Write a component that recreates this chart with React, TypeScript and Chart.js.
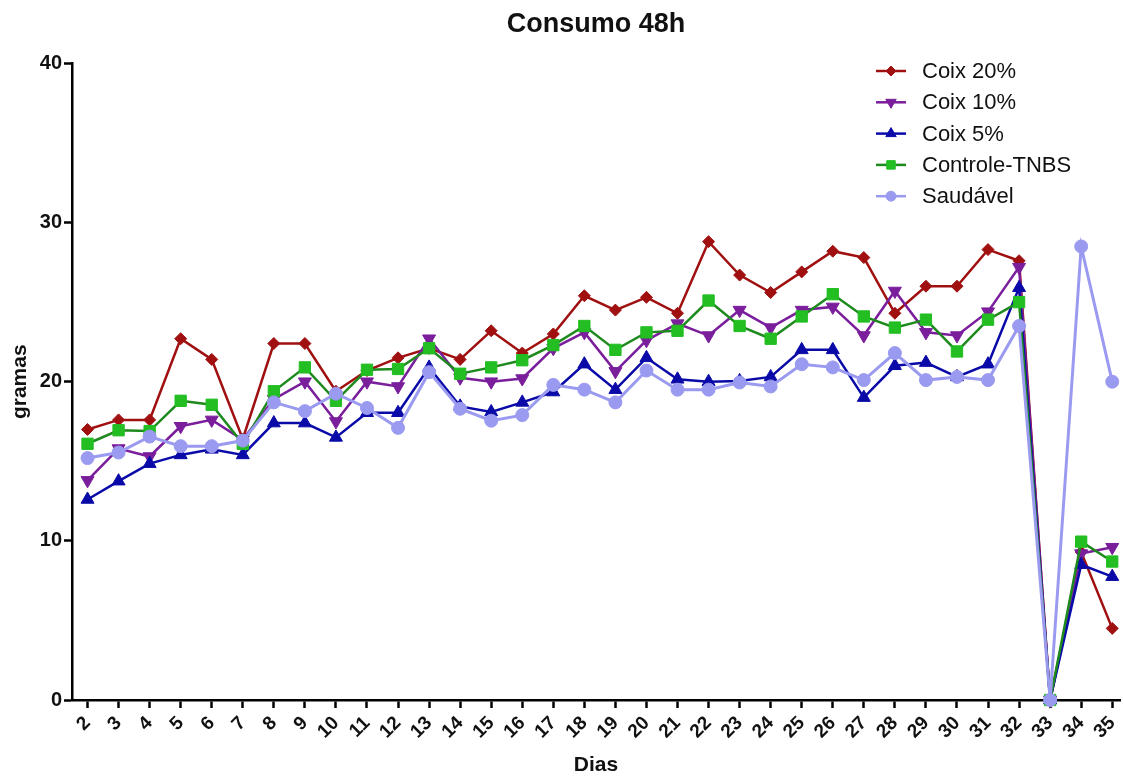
import React, { useEffect, useRef } from 'react';
import { Chart, registerables } from 'chart.js';
import { drawPoint } from 'chart.js/helpers';

Chart.register(...registerables);

const days = [2, 3, 4, 5, 6, 7, 8, 9, 10, 11, 12, 13, 14, 15, 16, 17, 18, 19, 20, 21, 22, 23, 24, 25, 26, 27, 28, 29, 30, 31, 32, 33, 34, 35];

const coix20 = [17.0, 17.6, 17.6, 22.7, 21.4, 16.4, 22.4, 22.4, 19.4, 20.7, 21.5, 22.1, 21.4, 23.2, 21.8, 23.0, 25.4, 24.5, 25.3, 24.3, 28.8, 26.7, 25.6, 26.9, 28.2, 27.8, 24.3, 26.0, 26.0, 28.3, 27.6, 0, 9.3, 4.5];
const coix10 = [13.8, 15.8, 15.3, 17.2, 17.6, 16.35, 18.9, 20.0, 17.5, 20.0, 19.7, 22.7, 20.25, 20.0, 20.2, 22.1, 23.1, 20.65, 22.6, 23.65, 22.9, 24.5, 23.4, 24.5, 24.7, 22.9, 25.7, 23.1, 22.9, 24.4, 27.2, 0, 9.2, 9.6];
const coix5 = [12.6, 13.75, 14.85, 15.4, 15.75, 15.4, 17.4, 17.4, 16.5, 18.05, 18.05, 20.9, 18.45, 18.1, 18.7, 19.35, 21.1, 19.5, 21.5, 20.15, 20.0, 20.05, 20.3, 22.0, 22.0, 19.0, 21.0, 21.2, 20.3, 21.1, 25.9, 0, 8.5, 7.75];
const controle = [16.1, 16.95, 16.9, 18.8, 18.55, 16.1, 19.4, 20.9, 18.8, 20.75, 20.8, 22.1, 20.5, 20.9, 21.35, 22.3, 23.5, 22.0, 23.1, 23.2, 25.1, 23.5, 22.7, 24.1, 25.5, 24.1, 23.4, 23.9, 21.9, 23.9, 25.0, 0, 9.95, 8.7];
const saudavel = [15.2, 15.55, 16.55, 15.95, 15.95, 16.3, 18.7, 18.15, 19.25, 18.35, 17.1, 20.6, 18.3, 17.55, 17.9, 19.8, 19.5, 18.7, 20.7, 19.5, 19.5, 19.95, 19.7, 21.1, 20.9, 20.1, 21.8, 20.1, 20.3, 20.1, 23.5, 0, 28.5, 20.0];

const seriesLabels = ['Coix 20%', 'Coix 10%', 'Coix 5%', 'Controle-TNBS', 'Saudável'];
const yTicks = [0, 10, 20, 30, 40];

const FONT = '"Liberation Sans", Arial, Helvetica, sans-serif';

const legendPlugin = {
  id: 'customLegend',
  afterDraw(chart: any) {
    const ctx = chart.ctx;
    const area = chart.chartArea;
    const x0 = area.right - 244;
    chart.data.datasets.forEach((ds: any, i: number) => {
      const y = 71 + i * 31.3;
      ctx.save();
      ctx.strokeStyle = ds.borderColor;
      ctx.lineWidth = 2.5;
      ctx.beginPath();
      ctx.moveTo(x0, y);
      ctx.lineTo(x0 + 30, y);
      ctx.stroke();
      ctx.fillStyle = ds.pointBackgroundColor;
      ctx.strokeStyle = ds.pointBorderColor;
      ctx.lineWidth = 1;
      drawPoint(ctx, { pointStyle: ds.pointStyle, rotation: ds.pointRotation || 0, radius: ds.legendRadius, borderWidth: 1 }, x0 + 15, y);
      ctx.fillStyle = '#111';
      ctx.font = `22px ${FONT}`;
      ctx.textBaseline = 'middle';
      ctx.textAlign = 'left';
      ctx.fillText(ds.label, x0 + 46, y + 1);
      ctx.restore();
    });
  },
};

function toPoints(arr: number[]) {
  return days.map((d, i) => ({ x: d, y: arr[i] }));
}

export default function App() {
  const ref = useRef<HTMLCanvasElement | null>(null);

  useEffect(() => {
    if (!ref.current) return;
    Chart.defaults.font.family = FONT;
    const mk = (label: string, arr: number[], line: string, fill: string, style: string, radius: number, legendRadius: number, order: number, rotation = 0, width = 2.5) => ({
      label,
      data: toPoints(arr),
      borderColor: line,
      backgroundColor: fill,
      pointBackgroundColor: fill,
      pointBorderColor: fill,
      pointStyle: style,
      pointRadius: radius,
      pointRotation: rotation,
      pointBorderWidth: 1,
      borderWidth: width,
      tension: 0,
      clip: false,
      order,
      legendRadius,
    });
    const chart = new Chart(ref.current, {
      type: 'line',
      data: {
        datasets: [
          mk(seriesLabels[0], coix20, '#A01010', '#A01010', 'rectRot', 6, 5, 5),
          mk(seriesLabels[1], coix10, '#7A1E9C', '#7A1E9C', 'triangle', 7.5, 6, 4, 180),
          mk(seriesLabels[2], coix5, '#0A0AA8', '#0A0AA8', 'triangle', 7.5, 6, 3),
          mk(seriesLabels[3], controle, '#1E8A1E', '#22BE22', 'rect', 8, 6, 2),
          mk(seriesLabels[4], saudavel, '#9A9AF0', '#9A9AF0', 'circle', 6.5, 5, 1, 0, 3),
        ] as any,
      },
      options: {
        animation: false,
        responsive: false,
        devicePixelRatio: 1,
        layout: { autoPadding: false, padding: { left: 0, right: 4, top: 0, bottom: 0 } },
        plugins: {
          legend: { display: false },
          tooltip: { enabled: false },
          title: {
            display: true,
            fullSize: false,
            text: 'Consumo 48h',
            color: '#111',
            font: { size: 27, weight: 'bold' },
            padding: { top: 8, bottom: 23 },
          },
        },
        scales: {
          x: {
            type: 'linear',
            min: 1.5,
            max: 35.25,
            afterBuildTicks: (s: any) => {
              s.ticks = days.map((v) => ({ value: v }));
            },
            afterFit: (s: any) => {
              s.height = 78;
              s.paddingRight = 0;
              s.paddingLeft = 0;
            },
            ticks: {
              autoSkip: false,
              maxRotation: 45,
              minRotation: 45,
              padding: 4,
              color: '#111',
              font: { size: 19, weight: 'bold' },
              callback: (v: any) => String(v),
            },
            grid: {
              display: true,
              drawOnChartArea: false,
              drawTicks: true,
              tickLength: 8,
              tickWidth: 2.5,
              tickColor: '#000',
            },
            border: { display: true, color: '#000', width: 2.5 },
            title: {
              display: true,
              text: 'Dias',
              color: '#111',
              font: { size: 21, weight: 'bold' },
              padding: { top: 0, bottom: 0 },
            },
          },
          y: {
            type: 'linear',
            min: 0,
            max: 40,
            afterBuildTicks: (s: any) => {
              s.ticks = yTicks.map((v) => ({ value: v }));
            },
            afterFit: (s: any) => {
              s.width = 72;
            },
            ticks: {
              padding: 2,
              color: '#111',
              font: { size: 20, weight: 'bold' },
            },
            grid: {
              display: true,
              drawOnChartArea: false,
              drawTicks: true,
              tickLength: 8,
              tickWidth: 2.5,
              tickColor: '#000',
            },
            border: { display: true, color: '#000', width: 2.5 },
            title: {
              display: true,
              text: 'gramas',
              color: '#111',
              font: { size: 21, weight: 'bold' },
              padding: { top: 8, bottom: 0 },
            },
          },
        },
      } as any,
      plugins: [legendPlugin],
    });
    return () => chart.destroy();
  }, []);

  return (
    <div style={{ position: 'fixed', left: 0, top: 0, width: 1124, height: 778, background: '#fff' }}>
      <canvas ref={ref} width={1124} height={778} style={{ width: 1124, height: 778, display: 'block' }} />
    </div>
  );
}
